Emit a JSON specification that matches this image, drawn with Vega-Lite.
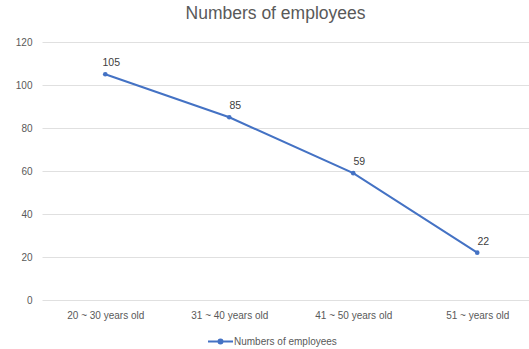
{
  "$schema": "https://vega.github.io/schema/vega-lite/v6.json",
  "autosize": "none",
  "width": 487,
  "height": 258,
  "padding": {"left": 42, "top": 42, "right": 0, "bottom": 49},
  "background": "white",
  "config": {
    "view": {"stroke": null},
    "font": "Liberation Sans"
  },
  "title": {
    "text": "Numbers of employees",
    "fontSize": 17.5,
    "fontWeight": "normal",
    "color": "#595959",
    "offset": 15,
    "dx": -10,
    "anchor": "middle"
  },
  "data": {
    "values": [
      {"group": "20 ~ 30 years old", "count": 105},
      {"group": "31 ~ 40 years old", "count": 85},
      {"group": "41 ~ 50 years old", "count": 59},
      {"group": "51 ~ years old", "count": 22}
    ]
  },
  "encoding": {
    "x": {
      "field": "group",
      "type": "nominal",
      "sort": null,
      "scale": {"type": "point", "padding": 0.464, "align": 0.55},
      "axis": {
        "title": null,
        "labelAngle": 0,
        "labelFontSize": 10,
        "labelColor": "#595959",
        "labelPadding": 10,
        "ticks": false,
        "domain": false,
        "grid": false
      }
    },
    "y": {
      "field": "count",
      "type": "quantitative",
      "scale": {"domain": [0, 120]},
      "axis": {
        "title": null,
        "values": [0, 20, 40, 60, 80, 100, 120],
        "labelFontSize": 10,
        "labelColor": "#595959",
        "labelPadding": 10,
        "ticks": false,
        "domain": false,
        "gridColor": "#e0e0e0",
        "gridWidth": 1
      }
    }
  },
  "layer": [
    {
      "mark": {"type": "line", "strokeWidth": 2, "point": {"filled": true, "size": 22}},
      "encoding": {
        "color": {
          "datum": "Numbers of employees",
          "type": "nominal",
          "scale": {"range": ["#4472C4"]},
          "legend": {
            "title": null,
            "orient": "none",
            "legendX": 165,
            "legendY": 286,
            "labelFontSize": 10,
            "labelColor": "#595959",
            "labelOffset": 0,
            "symbolType": "M-1,0L1,0M-0.16,0a0.16,0.16 0 1,0 0.32,0a0.16,0.16 0 1,0 -0.32,0",
            "symbolSize": 625,
            "symbolStrokeWidth": 2,
            "symbolFillColor": "#4472C4",
            "symbolStrokeColor": "#4472C4"
          }
        }
      }
    },
    {
      "mark": {"type": "text", "dx": 6, "dy": -11, "fontSize": 10.5, "color": "#404040"},
      "encoding": {"text": {"field": "count", "type": "quantitative"}}
    }
  ]
}
